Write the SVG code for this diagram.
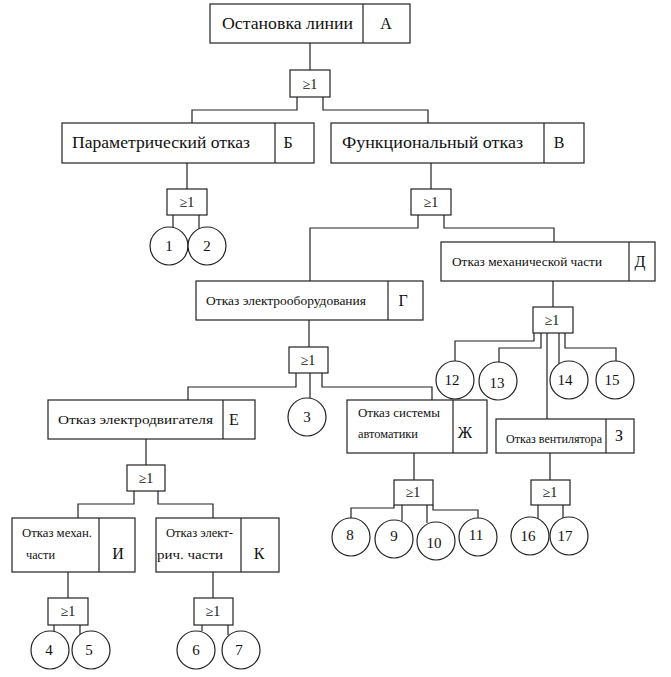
<svg xmlns="http://www.w3.org/2000/svg" width="671" height="677" viewBox="0 0 671 677">
<style>
rect.box,rect.gate,line.div{fill:#fff;stroke:#222;stroke-width:1.2}
line.div{fill:none}
circle.ev{fill:#fff;stroke:#222;stroke-width:1.2}
#connectors path{fill:none;stroke:#222;stroke-width:1.2}
text{font-family:"Liberation Serif","Times New Roman",serif;fill:#111}
.big{font-size:16px}
.sm{font-size:12.5px}
.g{font-size:14px;text-anchor:middle}
.n{font-size:15px;text-anchor:middle}
.c{text-anchor:middle}
</style>
<rect width="671" height="677" fill="#fff"/>
<g id="connectors">
<path d="M310 43V70"/>
<path d="M297 97V110H192V123"/>
<path d="M323 97V110H428V123"/>
<path d="M187 163V189"/>
<path d="M173 215V228"/>
<path d="M199 215V229"/>
<path d="M431 163V189"/>
<path d="M418 215V228H310V281"/>
<path d="M444 215V228H554V242"/>
<path d="M309 320V347"/>
<path d="M296 373V387H188V400"/>
<path d="M310 373V398"/>
<path d="M322 373V387H432V400"/>
<path d="M553 281V307"/>
<path d="M534 333V341H455V361"/>
<path d="M541 333V348H499V362"/>
<path d="M547 333V419"/>
<path d="M559 333V364"/>
<path d="M565 333V348H616V361"/>
<path d="M146 439V465"/>
<path d="M134 491V504H78V518"/>
<path d="M158 491V504H213V518"/>
<path d="M414 453V480"/>
<path d="M394 505V508H351V518"/>
<path d="M402 505V521"/>
<path d="M427 505V523"/>
<path d="M433 505V510H478V518"/>
<path d="M550 453V480"/>
<path d="M538 505V519"/>
<path d="M563 505V519"/>
<path d="M68 572V598"/>
<path d="M54 625V631"/>
<path d="M80 625V635"/>
<path d="M213 572V598"/>
<path d="M202 625V631"/>
<path d="M228 625V635"/>
</g>
<g id="nodeA">
<rect class="box" x="210" y="4" width="200" height="39"/>
<line class="div" x1="363" y1="4" x2="363" y2="43"/>
<text class="big" x="222" y="29" textLength="131" lengthAdjust="spacingAndGlyphs">Остановка линии</text>
<text class="big c" x="386" y="29">А</text>
</g>
<g id="gateA"><rect class="gate" x="290" y="70" width="40" height="27"/><text class="g" x="310" y="89">≥1</text></g>
<g id="nodeB">
<rect class="box" x="62" y="123" width="252" height="40"/>
<line class="div" x1="275" y1="123" x2="275" y2="163"/>
<text class="big" x="72" y="148" textLength="178" lengthAdjust="spacingAndGlyphs">Параметрический отказ</text>
<text class="big c" x="288" y="148">Б</text>
</g>
<g id="gateB"><rect class="gate" x="167" y="189" width="40" height="26"/><text class="g" x="187" y="207">≥1</text></g>
<g id="ev1"><circle class="ev" cx="169" cy="246" r="19"/><text class="n" x="169" y="251">1</text></g>
<g id="ev2"><circle class="ev" cx="207" cy="246" r="19"/><text class="n" x="207" y="251">2</text></g>
<g id="nodeV">
<rect class="box" x="331" y="123" width="253" height="40"/>
<line class="div" x1="544" y1="123" x2="544" y2="163"/>
<text class="big" x="342" y="148" textLength="181" lengthAdjust="spacingAndGlyphs">Функциональный  отказ</text>
<text class="big c" x="559" y="148">В</text>
</g>
<g id="gateV"><rect class="gate" x="411" y="189" width="40" height="26"/><text class="g" x="431" y="207">≥1</text></g>
<g id="nodeG">
<rect class="box" x="196" y="281" width="227" height="39"/>
<line class="div" x1="388" y1="281" x2="388" y2="320"/>
<text class="sm" x="206" y="305" textLength="160" lengthAdjust="spacingAndGlyphs">Отказ электрооборудования</text>
<text class="big c" x="403" y="306">Г</text>
</g>
<g id="gateG"><rect class="gate" x="289" y="347" width="39" height="26"/><text class="g" x="308" y="365">≥1</text></g>
<g id="ev3"><circle class="ev" cx="307" cy="417" r="19"/><text class="n" x="307" y="422">3</text></g>
<g id="nodeD">
<rect class="box" x="441" y="242" width="214" height="39"/>
<line class="div" x1="629" y1="242" x2="629" y2="281"/>
<text class="sm" x="452" y="266" textLength="150" lengthAdjust="spacingAndGlyphs">Отказ механической части</text>
<text class="big c" x="640" y="267">Д</text>
</g>
<g id="gateD"><rect class="gate" x="533" y="307" width="40" height="26"/><text class="g" x="552" y="325">≥1</text></g>
<g id="ev12"><circle class="ev" cx="455" cy="380" r="19"/><text class="n" x="452" y="385">12</text></g>
<g id="ev13"><circle class="ev" cx="498" cy="381" r="19"/><text class="n" x="497" y="388">13</text></g>
<g id="ev14"><circle class="ev" cx="569" cy="380" r="19"/><text class="n" x="565" y="385">14</text></g>
<g id="ev15"><circle class="ev" cx="615" cy="380" r="19"/><text class="n" x="612" y="385">15</text></g>
<g id="nodeE">
<rect class="box" x="48" y="400" width="207" height="39"/>
<line class="div" x1="223" y1="400" x2="223" y2="439"/>
<text class="sm" x="58" y="424" textLength="155" lengthAdjust="spacingAndGlyphs">Отказ электродвигателя</text>
<text class="big" x="229" y="425">Е</text>
</g>
<g id="gateE"><rect class="gate" x="127" y="465" width="38" height="26"/><text class="g" x="146" y="483">≥1</text></g>
<g id="nodeZh">
<rect class="box" x="347" y="400" width="140" height="53"/>
<line class="div" x1="453" y1="400" x2="453" y2="453"/>
<text class="sm" x="358" y="417" textLength="82" lengthAdjust="spacingAndGlyphs">Отказ системы</text>
<text class="sm" x="358" y="438" textLength="60" lengthAdjust="spacingAndGlyphs">автоматики</text>
<text class="big c" x="465" y="438">Ж</text>
</g>
<g id="gateZh"><rect class="gate" x="394" y="480" width="39" height="25"/><text class="g" x="413" y="497">≥1</text></g>
<g id="ev8"><circle class="ev" cx="351" cy="537" r="19"/><text class="n" x="350" y="540">8</text></g>
<g id="ev9"><circle class="ev" cx="394" cy="539" r="19"/><text class="n" x="394" y="541">9</text></g>
<g id="ev10"><circle class="ev" cx="436" cy="541" r="19"/><text class="n" x="434" y="548">10</text></g>
<g id="ev11"><circle class="ev" cx="478" cy="537" r="19"/><text class="n" x="476" y="540">11</text></g>
<g id="nodeZ">
<rect class="box" x="496" y="419" width="138" height="34"/>
<line class="div" x1="606" y1="419" x2="606" y2="453"/>
<text class="sm" x="506" y="443" textLength="96" lengthAdjust="spacingAndGlyphs">Отказ вентилятора</text>
<text class="big c" x="619" y="441">З</text>
</g>
<g id="gateZ"><rect class="gate" x="531" y="480" width="39" height="25"/><text class="g" x="550" y="497">≥1</text></g>
<g id="ev16"><circle class="ev" cx="530" cy="536" r="19"/><text class="n" x="528" y="541">16</text></g>
<g id="ev17"><circle class="ev" cx="569" cy="536" r="19"/><text class="n" x="565" y="541">17</text></g>
<g id="nodeI">
<rect class="box" x="12" y="518" width="123" height="54"/>
<line class="div" x1="99" y1="518" x2="99" y2="572"/>
<text class="sm" x="22" y="537" textLength="70" lengthAdjust="spacingAndGlyphs">Отказ механ.</text>
<text class="sm" x="26" y="559" textLength="29" lengthAdjust="spacingAndGlyphs">части</text>
<text class="big c" x="118" y="559">И</text>
</g>
<g id="gateI"><rect class="gate" x="48" y="598" width="40" height="27"/><text class="g" x="68" y="616">≥1</text></g>
<g id="ev4"><circle class="ev" cx="50" cy="650" r="19"/><text class="n" x="49" y="655">4</text></g>
<g id="ev5"><circle class="ev" cx="91" cy="650" r="19"/><text class="n" x="89" y="655">5</text></g>
<g id="nodeK">
<rect class="box" x="156" y="518" width="123" height="54"/>
<line class="div" x1="241" y1="518" x2="241" y2="572"/>
<text class="sm" x="166" y="537" textLength="67" lengthAdjust="spacingAndGlyphs">Отказ элект-</text>
<text class="sm" x="157" y="559" textLength="66" lengthAdjust="spacingAndGlyphs">рич. части</text>
<text class="big c" x="259" y="559">К</text>
</g>
<g id="gateK"><rect class="gate" x="194" y="598" width="39" height="27"/><text class="g" x="213" y="616">≥1</text></g>
<g id="ev6"><circle class="ev" cx="196" cy="650" r="19"/><text class="n" x="196" y="655">6</text></g>
<g id="ev7"><circle class="ev" cx="241" cy="650" r="19"/><text class="n" x="239" y="655">7</text></g>
</svg>
